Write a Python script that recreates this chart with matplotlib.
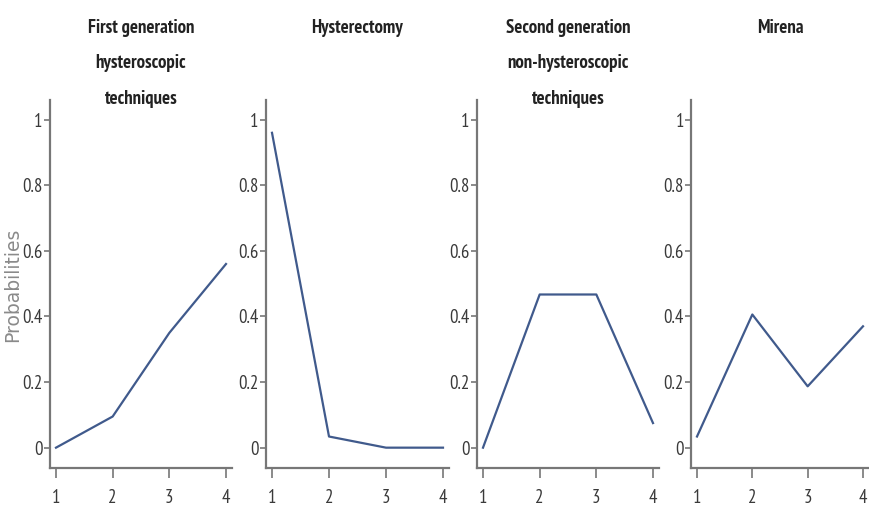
import matplotlib
matplotlib.use('Agg')
import matplotlib.pyplot as plt

# ---------- data ----------
stages = [1, 2, 3, 4]
titles = [
    "First generation\nhysteroscopic\ntechniques",
    "Hysterectomy",
    "Second generation\nnon-hysteroscopic\ntechniques",
    "Mirena",
]
first_gen = [0.0, 0.095, 0.35, 0.56]
hysterectomy = [0.96, 0.034, 0.0, 0.0]
second_gen = [0.0, 0.467, 0.467, 0.075]
mirena = [0.034, 0.406, 0.187, 0.37]
series = [first_gen, hysterectomy, second_gen, mirena]
yticks = [0, 0.2, 0.4, 0.6, 0.8, 1]
ytick_labels = ["0", "0.2", "0.4", "0.6", "0.8", "1"]

# ---------- style ----------
narrow = ['PT Sans Narrow', 'Roboto Condensed', 'DejaVu Sans']
line_col = '#405a8c'
axis_col = '#777777'
text_col = '#3a3a3a'

W, H = 869, 515
fig = plt.figure(figsize=(W / 100, H / 100), dpi=100)

# pixel positions of tick "1" and tick "4" in each panel
panel_px = [(56, 226), (272, 443), (483, 653), (697, 863)]
for i, ((p1, p4), vals, title) in enumerate(zip(panel_px, series, titles)):
    unit = (p4 - p1) / 3
    left = p1 - 0.1 * unit
    width = 3.2 * unit
    ax = fig.add_axes([left / W, 1 - 468 / H, width / W, 368 / H])
    ax.plot(stages, vals, color=line_col, lw=1.6)
    ax.set_xlim(0.9, 4.1)
    ax.set_ylim(-0.062, 1.06)
    ax.set_xticks(stages)
    ax.set_yticks(yticks)
    ax.set_yticklabels(ytick_labels)
    for s in ['top', 'right']:
        ax.spines[s].set_visible(False)
    for s in ['left', 'bottom']:
        ax.spines[s].set_color(axis_col)
        ax.spines[s].set_linewidth(1.6)
    ax.tick_params(colors=axis_col, width=1.2, labelcolor=text_col, labelsize=13.5)
    ax.tick_params(axis='x', length=7, pad=8)
    ax.tick_params(axis='y', length=4, pad=1.5)
    for lab in ax.get_xticklabels() + ax.get_yticklabels():
        lab.set_family(narrow)
    fig.text((left + width / 2) / W, 1 - 19 / H, title, ha='center', va='top',
             family=narrow, fontweight='bold', fontsize=13.5, color='#222222',
             linespacing=2.25)

fig.text(13 / W, 1 - 285 / H, "Probabilities", rotation=90, ha='center',
         va='center', color='#8a8a8a', fontsize=13.5)

fig.savefig('out.png', dpi=100)
